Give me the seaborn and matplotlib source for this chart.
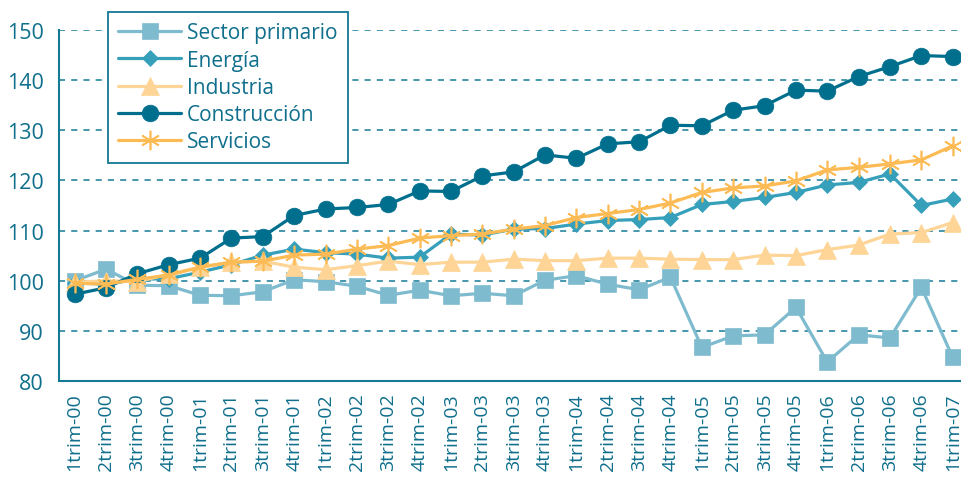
import matplotlib
matplotlib.use("Agg")
import matplotlib.pyplot as plt
import seaborn as sns
import pandas as pd
from matplotlib.ticker import FixedLocator, NullFormatter

## Data

quarters = [f"{q}trim-{y:02d}" for y in range(0, 7) for q in range(1, 5)] + ["1trim-07"]

sector_primario = [100.0, 102.3, 99.1, 99.0, 97.1, 97.0, 97.8, 100.2, 99.8, 98.9,
                   97.1, 98.1, 97.0, 97.5, 97.0, 100.1, 101.0, 99.3, 98.2, 100.7,
                   86.7, 89.0, 89.2, 94.7, 83.8, 89.2, 88.6, 98.7, 84.7]
energia = [99.6, 99.3, 100.3, 100.4, 101.7, 103.2, 105.1, 106.3, 105.6, 105.3,
           104.5, 104.7, 109.3, 109.1, 110.3, 110.4, 111.3, 112.0, 112.2, 112.6,
           115.2, 115.8, 116.6, 117.6, 119.1, 119.6, 121.3, 115.0, 116.3]
industria = [99.7, 100.0, 99.8, 101.3, 102.7, 103.7, 103.9, 102.7, 102.2, 103.0,
             103.9, 103.2, 103.7, 103.7, 104.3, 104.0, 104.0, 104.5, 104.5, 104.3,
             104.2, 104.2, 105.1, 105.0, 106.2, 107.1, 109.3, 109.6, 111.6]
construccion = [97.3, 98.6, 101.4, 103.2, 104.5, 108.5, 108.8, 113.0, 114.3, 114.6,
                115.2, 117.9, 117.8, 120.9, 121.7, 125.1, 124.4, 127.3, 127.7, 131.0,
                130.9, 134.0, 134.9, 138.0, 137.8, 140.7, 142.7, 144.9, 144.7]
servicios = [99.5, 99.3, 100.3, 101.1, 102.7, 103.7, 103.9, 105.1, 105.3, 106.3,
             107.0, 108.5, 109.0, 109.3, 110.3, 111.0, 112.6, 113.4, 114.2, 115.5,
             117.6, 118.5, 118.9, 119.9, 122.1, 122.6, 123.3, 124.1, 126.9]

series = {
    "Sector primario": sector_primario,
    "Energía": energia,
    "Industria": industria,
    "Construcción": construccion,
    "Servicios": servicios,
}

colors = {
    "Sector primario": "#7fbbcf",
    "Energía": "#36a0bb",
    "Industria": "#fed596",
    "Construcción": "#006f8e",
    "Servicios": "#fdbb55",
}
markers = {
    "Sector primario": ("s", 11.5),
    "Energía": ("D", 8),
    "Industria": ("^", 12.5),
    "Construcción": ("o", 12),
    "Servicios": ((6, 2, 0), 14),
}

text_color = "#0f6f8c"
axis_color = "#147a96"

## Plot

sns.set_style("white")
plt.rcParams["font.family"] = ["Open Sans", "DejaVu Sans"]

fig = plt.figure(figsize=(9.61, 4.81), dpi=100)
ax = fig.add_axes([0.0614, 0.2058, 0.9463, 0.7298])

x = list(range(len(quarters)))
for name, values in series.items():
    mk, ms = markers[name]
    sns.lineplot(
        x=x, y=values, ax=ax, color=colors[name], label=name,
        marker=mk, markersize=ms, linewidth=2.3,
        markeredgecolor=colors[name], markeredgewidth=1.2 if name == "Servicios" else 0.5,
    )

ax.set_ylim(80, 150)
ax.set_xlim(-0.5, 28.5)
ax.set_yticks(range(80, 151, 10))
ax.yaxis.grid(True, linestyle=(0, (4, 4)), color=axis_color, linewidth=1.1)
ax.set_axisbelow(True)

ax.set_xticks(x)
ax.set_xticklabels(quarters, rotation=90)
ax.xaxis.set_minor_locator(FixedLocator([i - 0.5 for i in range(len(quarters) + 1)]))
ax.xaxis.set_minor_formatter(NullFormatter())
ax.tick_params(axis="x", which="major", length=0, pad=8, labelsize=14, colors=text_color)
ax.tick_params(axis="x", which="minor", length=6, width=1.2, color=axis_color, direction="out")
ax.tick_params(axis="y", length=7, width=1.2, color=axis_color, direction="out",
               labelsize=15.5, labelcolor=text_color, pad=4)

for side in ["top", "right"]:
    ax.spines[side].set_visible(False)
for side in ["left", "bottom"]:
    ax.spines[side].set_color(axis_color)
    ax.spines[side].set_linewidth(1.5)

ax.set_xlabel("")
ax.set_ylabel("")

leg = ax.legend(
    loc="upper left", bbox_to_anchor=(0.1124, 0.973), bbox_transform=fig.transFigure,
    fontsize=15, frameon=True, fancybox=False, framealpha=1,
    edgecolor=axis_color, handlelength=3.0, handletextpad=0.3,
    labelspacing=0.3, borderpad=0.5, borderaxespad=0,
)
leg.get_frame().set_linewidth(1.3)
for t in leg.get_texts():
    t.set_color(text_color)

fig.savefig("out.png", dpi=100)
